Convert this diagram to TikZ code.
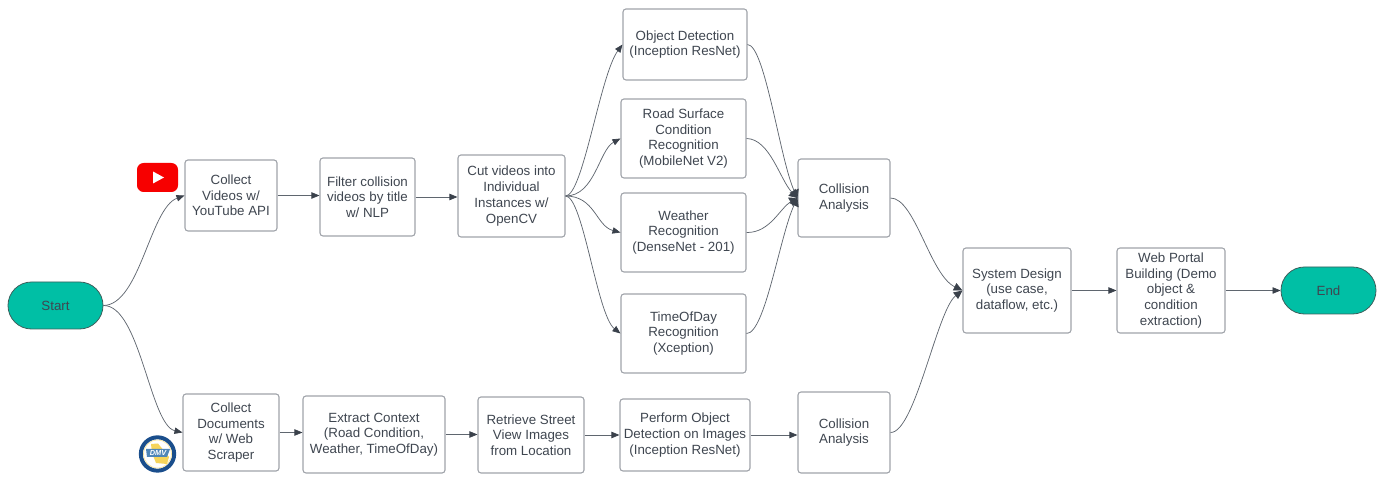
\documentclass[tikz,border=0pt]{standalone}
\usepackage{fontspec}
\setmainfont{Liberation Sans}
\usetikzlibrary{arrows.meta}
\definecolor{lineC}{HTML}{5F666F}
\definecolor{headC}{HTML}{3A414B}
\definecolor{boxC}{HTML}{A0A4AA}
\definecolor{txtC}{HTML}{3F4650}
\definecolor{teal}{HTML}{00BFA5}
\definecolor{tealB}{HTML}{3D5F5C}
\definecolor{ytred}{HTML}{F70000}
\definecolor{navy}{HTML}{1A4E8C}
\definecolor{gold}{HTML}{F5D45A}
\definecolor{band}{HTML}{4F86B8}
\tikzset{
  flowbox/.style={draw=boxC,line width=0.8pt,rounded corners=2.2pt,fill=white,inner sep=0pt,
    align=center,text=txtC,font=\fontsize{10}{11.8}\selectfont},
  term/.style={draw=tealB,line width=0.6pt,rounded corners=17.6pt,fill=teal,inner sep=0pt,
    align=center,text=txtC,font=\fontsize{10}{11.8}\selectfont},
  conn/.style={draw=lineC,line width=0.55pt,-{Triangle[length=6pt,width=4.8pt,color=headC]}},
  connbig/.style={draw=lineC,line width=0.55pt,-{Triangle[length=6.5pt,width=6pt,color=headC]}},
  connfan/.style={draw=lineC,line width=0.55pt,-{Triangle[length=6pt,width=7.5pt,color=headC]}},
}
% name, style, x1,y1,x2,y2 (reference pixels), text
\newcommand{\pbox}[7]{%
  \pgfmathsetmacro{\pcx}{(#3+#5)/2*0.75}%
  \pgfmathsetmacro{\pcy}{-(#4+#6)/2*0.75}%
  \pgfmathsetmacro{\pw}{(#5-#3)*0.75}%
  \pgfmathsetmacro{\ph}{(#6-#4)*0.75}%
  \node[#2,minimum width=\pw pt,minimum height=\ph pt] (#1) at (\pcx pt,\pcy pt) {#7};%
}
\begin{document}
\begin{tikzpicture}[x=0.75pt,y=-0.75pt]
\useasboundingbox (0,0) rectangle (1386,484);
\pbox{start}{term}{8}{282}{103}{329}{Start}
\pbox{vid}{flowbox}{185}{160}{277}{231}{Collect\\Videos w/\\YouTube API}
\pbox{filt}{flowbox}{320}{158}{415}{236}{Filter collision\\videos by title\\w/ NLP}
\pbox{cut}{flowbox}{458}{155}{565}{237}{Cut videos into\\Individual\\Instances w/\\OpenCV}
\pbox{obj}{flowbox}{623}{9}{747}{80}{Object Detection\\(Inception ResNet)}
\pbox{road}{flowbox}{621}{99}{746}{178}{Road Surface\\Condition\\Recognition\\(MobileNet V2)}
\pbox{wea}{flowbox}{621}{193}{746}{272}{Weather\\Recognition\\(DenseNet - 201)}
\pbox{tod}{flowbox}{621}{294}{746}{373}{TimeOfDay\\Recognition\\(Xception)}
\pbox{col}{flowbox}{798}{159}{890}{237}{Collision\\Analysis}
\pbox{colb}{flowbox}{798}{392}{890}{473}{Collision\\Analysis}
\pbox{sys}{flowbox}{963}{248}{1071}{333}{System Design\\(use case,\\dataflow, etc.)}
\pbox{web}{flowbox}{1117}{248}{1225}{333}{Web Portal\\Building (Demo\\object \&\\condition\\extraction)}
\pbox{end}{term}{1281}{267}{1376}{314}{End}
\pbox{doc}{flowbox}{183}{394}{279}{471}{Collect\\Documents\\w/ Web\\Scraper}
\pbox{ext}{flowbox}{303}{396}{445}{473}{Extract Context\\(Road Condition,\\Weather, TimeOfDay)}
\pbox{ret}{flowbox}{478}{397}{584}{473}{Retrieve Street\\View Images\\from Location}
\pbox{per}{flowbox}{620}{399}{750}{471}{Perform Object\\Detection on Images\\(Inception ResNet)}

% connectors
\draw[conn] (start.east) .. controls (140,305) and (150,208) .. (vid.west);
\draw[conn] (start.east) .. controls (140,305) and (150,425) .. (doc.west);
\draw[conn] (vid.east) -- (filt.west|-vid.east);
\draw[conn] (filt.east) -- (cut.west|-filt.east);
\draw[conn] (cut.east) .. controls (583,196) and (600,75) .. (obj.west);
\draw[conn] (cut.east) .. controls (595,196) and (599,150) .. (road.west);
\draw[conn] (cut.east) .. controls (595,196) and (596,226) .. (wea.west);
\draw[conn] (cut.east) .. controls (583,196) and (597,315) .. (tod.west);
\draw[connfan] (obj.east) .. controls (765,45) and (780,160) .. (col.west);
\draw[connfan] (road.east) .. controls (770,139) and (780,180) .. (col.west);
\draw[connfan] (wea.east) .. controls (770,233) and (780,208) .. (col.west);
\draw[connfan] (tod.east) .. controls (765,334) and (780,235) .. (col.west);
\draw[connbig] (col.east) .. controls (915,198) and (930,275) .. (sys.west);
\draw[connbig] (colb.east) .. controls (915,433) and (937,310) .. (sys.west);
\draw[conn] (sys) -- (web);
\draw[conn] (web) -- (end);
\draw[conn] (doc.east) -- (ext.west|-doc.east);
\draw[conn] (ext.east) -- (ret.west|-ext.east);
\draw[conn] (ret.east) -- (per.west|-ret.east);
\draw[conn] (per.east) -- (colb.west|-per.east);

% YouTube logo
\fill[ytred,rounded corners=5pt] (137,163) rectangle (178,192);
\fill[white] (153,171.5) -- (164,177.5) -- (153,183.5) -- cycle;
% DMV seal
\fill[white] (157.5,454) circle[radius=14.25pt];
\draw[navy,line width=3pt] (157.5,454) circle[radius=12.5pt];
\draw[gold!60!white,line width=0.5pt] (157.5,454) circle[radius=10.5pt];
\fill[gold] (151,444) -- (158,443.5) -- (169,457) -- (167,464) -- (156,463) -- (152,453) -- cycle;
\fill[band] (146,449) -- (170,449) -- (167,457) -- (147,457) -- cycle;
\node[inner sep=0pt,text=white,font=\bfseries\itshape\fontsize{5.5}{6}\selectfont] (dmv) at (158,453) {DMV};
\end{tikzpicture}
\end{document}
